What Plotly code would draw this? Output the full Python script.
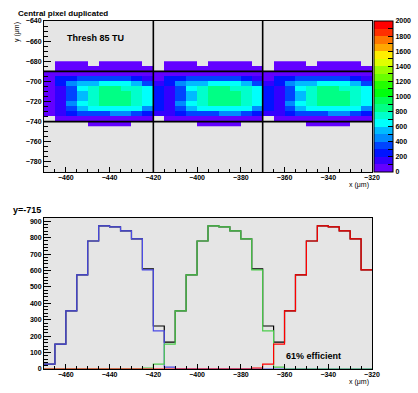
import colorsys
import plotly.graph_objects as go

# ---------------- data ----------------
x_edges = list(range(-470, -315, 5))            # 30 bins of 5 um
pixel_starts = [-470, -420, -370]               # three duplicated pixels
pixel_bound_x = [-420, -370]
pixel_bound_y = [-690, -740]
y_edges_top_down = list(range(-680, -750, -5))  # 13 rows of 5 um

# single-pixel response, columns are offsets -1..11 (5 um bins) from the pixel left edge
resp_T1 = [0, 0, 50, 50, 50, 0, 50, 50, 50, 50, 0, 0, 0]
resp_T2 = [0, 0, 50, 60, 60, 60, 60, 60, 60, 60, 50, 0, 0]
resp_A = [0, 40, 70, 90, 90, 95, 95, 95, 90, 80, 60, 20, 0]
resp_B = [0, 40, 220, 280, 320, 330, 330, 320, 310, 240, 150, 50, 0]
resp_C = [0, 40, 250, 450, 560, 580, 650, 660, 640, 540, 350, 150, 10]
resp_D = [0, 40, 180, 380, 650, 760, 830, 820, 770, 700, 600, 220, 10]
resp_E = [0, 35, 170, 360, 560, 770, 850, 850, 820, 760, 620, 230, 12]
resp_F = [6, 30, 152, 354, 573, 780, 872, 866, 841, 793, 604, 232, 12]   # y = -715 slice
resp_G = [0, 35, 170, 450, 650, 760, 840, 840, 810, 730, 620, 230, 12]
resp_H = [0, 35, 160, 350, 560, 650, 670, 660, 640, 600, 450, 180, 10]
resp_I = [0, 30, 120, 230, 300, 320, 380, 420, 420, 300, 200, 100, 5]
resp_J = [0, 0, 60, 70, 80, 80, 80, 80, 80, 70, 60, 0, 0]
resp_K = [0, 0, 0, 0, 0, 50, 50, 50, 50, 0, 0, 0, 0]
response_rows = [resp_T1, resp_T2, resp_A, resp_B, resp_C, resp_D, resp_E,
                 resp_F, resp_G, resp_H, resp_I, resp_J, resp_K]

cbar_ticks = list(range(0, 2100, 100))
slice_colors = ["#4b4be6", "#4ccd4c", "#ff0000"]

# ---------------- build ----------------
nb = len(x_edges) - 1
step = x_edges[1] - x_edges[0]


def place(row, start):
    out = [0] * nb
    base = (start - x_edges[0]) // step
    for k, v in enumerate(row):
        xb = base + k - 1
        if 0 <= xb < nb:
            out[xb] += v
    return out


total = []
for row in response_rows:
    s = [0] * nb
    for ps in pixel_starts:
        s = [a + b for a, b in zip(s, place(row, ps))]
    total.append(s)
z = [[v if v > 0 else None for v in r] for r in total][::-1]
y_edges = y_edges_top_down[::-1]


def root_color(j):
    idx = int((j + 0.99) * 50 / 20)
    hue = 280 - (idx + 1) * 5.6
    r, g, b = colorsys.hls_to_rgb(hue / 360.0, 0.5, 1.0)
    return "rgb(%d,%d,%d)" % (round(r * 255), round(g * 255), round(b * 255))


cs = []
for j in range(20):
    c = root_color(j)
    cs.append([j / 20, c])
    cs.append([(j + 1) / 20, c])

# page geometry helpers (pixels -> paper)
L, R, T, B = 44, 46, 21, 24
PW, PH = 418 - L - R, 393 - T - B


def X(px):
    return (px - L) / PW


def Y(py):
    return (393 - B - py) / PH


fig = go.Figure()
fig.add_trace(go.Heatmap(
    x=x_edges, y=y_edges, z=z, zmin=0, zmax=2000, colorscale=cs,
    hoverongaps=False, xaxis="x", yaxis="y",
    colorbar=dict(
        x=X(374), xanchor="left", xpad=0, thickness=19, thicknessmode="pixels",
        y=1, yanchor="top", ypad=0, len=Y(21) - Y(172), lenmode="fraction",
        outlinewidth=1, outlinecolor="black",
        tickvals=cbar_ticks,
        ticktext=[str(v) if v % 200 == 0 else "" for v in cbar_ticks],
        ticks="inside", ticklen=5, tickcolor="black",
        tickfont=dict(family="Liberation Sans", size=7, color="black", weight="bold"),
    ),
))

slices = [place(resp_F, ps) for ps in pixel_starts]
black = [sum(v) for v in zip(*slices)]
for vals, col in [(black, "black")] + list(zip(slices, slice_colors)):
    fig.add_trace(go.Scatter(
        x=x_edges, y=vals + [vals[-1]], mode="lines",
        line=dict(shape="hv", color=col, width=1.2),
        xaxis="x2", yaxis="y2", showlegend=False,
    ))

tickfont = dict(family="Liberation Sans", size=7, color="black", weight="bold")
common = dict(showgrid=False, zeroline=False, showline=True, mirror=True,
              linecolor="black", linewidth=1, ticks="inside", tickcolor="black",
              tickfont=tickfont)

shapes = []
for vx in pixel_bound_x:
    shapes.append(dict(type="line", xref="x", yref="y domain", x0=vx, x1=vx, y0=0, y1=1,
                       line=dict(color="black", width=1.6)))
for hy in pixel_bound_y:
    shapes.append(dict(type="line", xref="x domain", yref="y", x0=0, x1=1, y0=hy, y1=hy,
                       line=dict(color="black", width=1.6)))

bold = dict(family="Liberation Sans", color="black", weight="bold")
ann = [
    dict(text="Central pixel duplicated", x=X(16), y=Y(13), xanchor="left", yanchor="middle",
         font=dict(size=8, **bold)),
    dict(text="Thresh 85 TU", x=X(65), y=Y(38), xanchor="left", yanchor="middle",
         font=dict(size=9, **bold)),
    dict(text="y=-715", x=X(11), y=Y(210), xanchor="left", yanchor="middle",
         font=dict(size=9, **bold)),
    dict(text="61% efficient", x=X(284), y=Y(356), xanchor="left", yanchor="middle",
         font=dict(size=9, **bold)),
    dict(text="x (μm)", x=X(371), y=Y(185), xanchor="right", yanchor="middle",
         font=dict(family="Liberation Sans", size=7, color="black")),
    dict(text="x (μm)", x=X(371), y=Y(382), xanchor="right", yanchor="middle",
         font=dict(family="Liberation Sans", size=7, color="black")),
    dict(text="y (μm)", x=X(17), y=Y(32), xanchor="center", yanchor="middle", textangle=-90,
         font=dict(family="Liberation Sans", size=7, color="black")),
]
for a in ann:
    a.update(xref="paper", yref="paper", showarrow=False)

fig.update_layout(
    width=418, height=393, margin=dict(l=L, r=R, t=T, b=B, autoexpand=False),
    paper_bgcolor="white", plot_bgcolor="#e5e5e5", showlegend=False,
    xaxis=dict(domain=[0, 1], anchor="y", range=[-470, -320], dtick=20, tick0=-460,
               ticklen=5, ticklabelstandoff=-1,
               minor=dict(dtick=5, ticklen=3, ticks="inside", tickcolor="black"),
               **common),
    yaxis=dict(domain=[Y(172), 1], anchor="x", range=[-790, -640], dtick=20, tick0=-640,
               ticklen=7, minor=dict(dtick=5, ticklen=4, ticks="inside", tickcolor="black"),
               **common),
    xaxis2=dict(domain=[0, 1], anchor="y2", range=[-470, -320], dtick=20, tick0=-460,
                ticklen=5, ticklabelstandoff=-1,
                minor=dict(dtick=5, ticklen=3, ticks="inside", tickcolor="black"),
                **common),
    yaxis2=dict(domain=[0, Y(218)], anchor="x2", range=[0, 920], dtick=100, tick0=0,
                ticklen=7, minor=dict(dtick=20, ticklen=4, ticks="inside", tickcolor="black"),
                **common),
    shapes=shapes, annotations=ann,
)
fig.write_html("out.html", config={"displayModeBar": False},
               post_script="document.body.style.margin='0px';")
